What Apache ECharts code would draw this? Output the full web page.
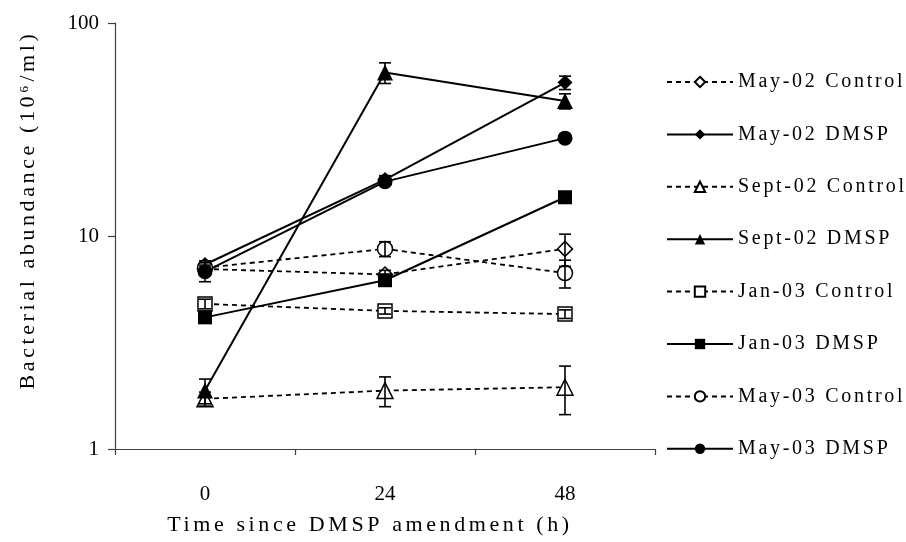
<!DOCTYPE html>
<html><head><meta charset="utf-8">
<script src="https://cdn.jsdelivr.net/npm/echarts@6/dist/echarts.min.js"></script>
<style>
html,body{margin:0;padding:0;background:#fff}
#chart{width:906px;height:542px}
</style></head><body><div id="chart"></div>
<script>
// ---- data ----
const categories = ['0', '24', '48'];
const yTicks = [1, 10, 100];
const seriesNames = ['May-02 Control', 'May-02 DMSP', 'Sept-02 Control', 'Sept-02 DMSP',
                     'Jan-03 Control', 'Jan-03 DMSP', 'May-03 Control', 'May-03 DMSP'];
const may02Control  = [7.0, 6.6, 8.7];
const may02DMSP     = [7.35, 18.4, 52.5];
const sept02Control = [1.72, 1.88, 1.95];
const sept02DMSP    = [1.88, 58.5, 43];
const jan03Control  = [4.8, 4.45, 4.3];
const jan03DMSP     = [4.15, 6.2, 15.2];
const may03Control  = [7.1, 8.7, 6.7];
const may03DMSP     = [6.8, 18.0, 28.8];
// error (± SD)
const may02ControlErr  = [0.3, 0.3, 1.5];
const may02DMSPErr     = [0.3, 0.8, 3.8];
const sept02ControlErr = [0.13, 0.3, 0.5];
const sept02DMSPErr    = [0.25, 6.5, 3.5];
const jan03ControlErr  = [0.25, 0.15, 0.2];
const jan03DMSPErr     = [0.1, 0.2, 0.6];
const may03ControlErr  = [0.4, 0.7, 1.0];
const may03DMSPErr     = [0.7, 0.7, 0.8];

const values = [may02Control, may02DMSP, sept02Control, sept02DMSP, jan03Control, jan03DMSP, may03Control, may03DMSP];
const errors = [may02ControlErr, may02DMSPErr, sept02ControlErr, sept02DMSPErr, jan03ControlErr, jan03DMSPErr, may03ControlErr, may03DMSPErr];
const symbols = ['diamond', 'diamond', 'triangle', 'triangle', 'rect', 'rect', 'circle', 'circle'];
const symbolSizes = [15, 15, 16, 16, 14, 14, 15, 15];
const filled = [false, true, false, true, false, true, false, true];

const FONT = "'Liberation Serif', serif";

// letter spacing emulation for the stretched serif text (titles 22px, legend 20px)
(function () {
  const proto = CanvasRenderingContext2D.prototype;
  const orig = proto.fillText;
  proto.fillText = function (t, x, y, m) {
    if ('letterSpacing' in this) {
      const f = this.font || '';
      this.letterSpacing = /\b22px/.test(f) ? '3.6px' : (/\b20px/.test(f) ? '2.7px' : '0px');
    }
    return m === undefined ? orig.call(this, t, x, y) : orig.call(this, t, x, y, m);
  };
})();

const lineSeries = seriesNames.map((name, i) => ({
  name: name,
  type: 'line',
  data: values[i],
  symbol: symbols[i],
  symbolSize: symbolSizes[i],
  showAllSymbol: true,
  lineStyle: { color: '#000', width: filled[i] ? 2 : 1.8, type: filled[i] ? 'solid' : [5, 4] },
  itemStyle: filled[i] ? { color: '#000', borderColor: '#000', borderWidth: 0 }
                       : { color: '#fff', borderColor: '#000', borderWidth: 1.5 },
  emphasis: { disabled: true },
  z: 2
}));

const errData = [];
values.forEach((vals, i) => {
  vals.forEach((v, j) => {
    const e = errors[i][j];
    if (e) errData.push([j, v - e, v + e]);
  });
});

const errSeries = {
  type: 'custom',
  name: 'errors',
  data: errData,
  encode: { x: 0, y: [1, 2] },
  z: 3,
  silent: true,
  renderItem: function (params, api) {
    const lo = api.coord([api.value(0), api.value(1)]);
    const hi = api.coord([api.value(0), api.value(2)]);
    const w = 6;
    const st = { stroke: '#000', lineWidth: 1.6 };
    return {
      type: 'group',
      children: [
        { type: 'line', shape: { x1: lo[0], y1: lo[1], x2: hi[0], y2: hi[1] }, style: st },
        { type: 'line', shape: { x1: lo[0] - w, y1: lo[1], x2: lo[0] + w, y2: lo[1] }, style: st },
        { type: 'line', shape: { x1: hi[0] - w, y1: hi[1], x2: hi[0] + w, y2: hi[1] }, style: st }
      ]
    };
  }
};

const chart = echarts.init(document.getElementById('chart'), null, { renderer: 'canvas' });
chart.setOption({
  animation: false,
  backgroundColor: '#fff',
  grid: { left: 115, right: 251, top: 23, bottom: 93 },
  legend: {
    data: seriesNames,
    orient: 'vertical',
    left: 661,
    top: 66,
    itemWidth: 66,
    itemHeight: 13,
    itemGap: 30.4,
    textStyle: { fontFamily: FONT, fontSize: 20, color: '#000', lineHeight: 22 },
    selectedMode: false
  },
  xAxis: {
    type: 'category',
    data: categories,
    boundaryGap: true,
    axisLine: { lineStyle: { color: '#404040', width: 1.2 } },
    axisTick: { show: true, inside: false, length: 6, alignWithLabel: false, lineStyle: { color: '#404040', width: 1.2 } },
    axisLabel: { fontFamily: FONT, fontSize: 21, color: '#000', margin: 35 },
    name: 'Time since DMSP amendment (h)',
    nameLocation: 'middle',
    nameGap: 65,
    nameTextStyle: { fontFamily: FONT, fontSize: 22, color: '#000', padding: [0, 30, 0, 0] },
    splitLine: { show: false }
  },
  yAxis: {
    type: 'log',
    logBase: 10,
    min: yTicks[0],
    max: yTicks[yTicks.length - 1],
    axisLine: { show: true, lineStyle: { color: '#404040', width: 1.2 } },
    axisTick: { show: true, inside: false, length: 7, lineStyle: { color: '#404040', width: 1.2 } },
    minorTick: { show: false },
    axisLabel: { fontFamily: FONT, fontSize: 21, color: '#000', margin: 16,
                 formatter: v => String(Math.round(v)) },
    splitLine: { show: false },
    name: 'Bacterial abundance (10\u2076/ml)',
    nameLocation: 'middle',
    nameGap: 76,
    nameRotate: 90,
    nameTextStyle: { fontFamily: FONT, fontSize: 22, color: '#000', padding: [0, 0, 0, 52] }
  },
  series: lineSeries.concat([errSeries])
});
</script></body></html>
